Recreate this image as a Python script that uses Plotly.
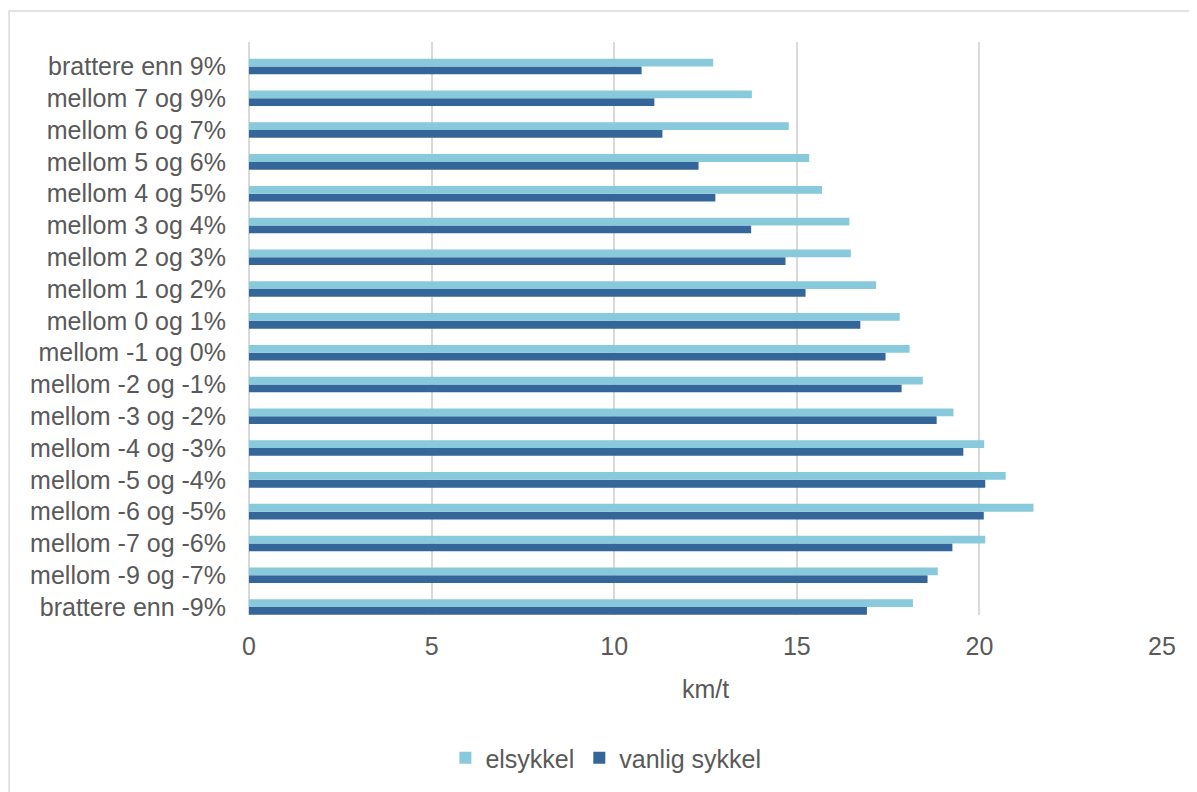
import plotly.graph_objects as go

categories = [
    "brattere enn -9%", "mellom -9 og -7%", "mellom -7 og -6%", "mellom -6 og -5%",
    "mellom -5 og -4%", "mellom -4 og -3%", "mellom -3 og -2%", "mellom -2 og -1%",
    "mellom -1 og 0%", "mellom 0 og 1%", "mellom 1 og 2%", "mellom 2 og 3%",
    "mellom 3 og 4%", "mellom 4 og 5%", "mellom 5 og 6%", "mellom 6 og 7%",
    "mellom 7 og 9%", "brattere enn 9%",
]
elsykkel = [18.18, 18.86, 20.16, 21.48, 20.72, 20.13, 19.29, 18.45, 18.09,
            17.82, 17.17, 16.48, 16.44, 15.69, 15.34, 14.78, 13.77, 12.71]
vanlig_sykkel = [16.92, 18.58, 19.26, 20.12, 20.16, 19.56, 18.83, 17.87, 17.43,
                 16.74, 15.24, 14.69, 13.75, 12.77, 12.31, 11.32, 11.10, 10.75]
x_ticks = [0, 5, 10, 15, 20, 25]

TEXT = "#595959"
GRID = "#d9d9d9"
FONT = "Liberation Sans, Arial, sans-serif"

fig = go.Figure()
fig.add_trace(go.Bar(y=categories, x=vanlig_sykkel, orientation="h", name="vanlig sykkel",
                     marker=dict(color="#346699", line=dict(width=0)), legendrank=2))
fig.add_trace(go.Bar(y=categories, x=elsykkel, orientation="h", name="elsykkel",
                     marker=dict(color="#89C9DC", line=dict(width=0)), legendrank=1))

OFF = 8  # page body margin
W, H = 1197 - OFF, 792 - OFF
L, R, T, B = 249 - OFF, 1162.3 - OFF, 42 - OFF, 616 - OFF
pw, ph = R - L, B - T

fig.update_layout(
    width=W, height=H,
    margin=dict(l=L, r=W - R, t=T, b=H - B, pad=0),
    paper_bgcolor="white", plot_bgcolor="white",
    barmode="group", bargap=0.51, bargroupgap=0,
    font=dict(family=FONT, size=25, color=TEXT),
    showlegend=True,
    legend=dict(orientation="h", x=(606 - OFF - L) / pw, xanchor="center",
                y=(B - (758 - OFF)) / ph, yanchor="middle",
                font=dict(size=25, color=TEXT), itemwidth=30, traceorder="normal"),
    xaxis=dict(range=[0, 25], tickvals=x_ticks, showgrid=True, gridcolor=GRID, gridwidth=1.5,
               zeroline=True, zerolinecolor=GRID, zerolinewidth=1.5, showline=False,
               ticks="", ticklabelstandoff=14,
               title=dict(text="km/t", font=dict(size=25, color=TEXT), standoff=21)),
    yaxis=dict(type="category", range=[-0.25, 17.77], showgrid=False, zeroline=False,
               showline=False, ticks="", ticklabelstandoff=22),
    shapes=[dict(type="rect", xref="paper", yref="paper",
                 x0=(9 - OFF - L) / pw, x1=(W + 20 - L) / pw,
                 y0=(B - (H + 20)) / ph, y1=(B - (11 - OFF)) / ph,
                 line=dict(color=GRID, width=1.5), fillcolor="rgba(0,0,0,0)", layer="below")],
)

fig.write_html("out.html")
